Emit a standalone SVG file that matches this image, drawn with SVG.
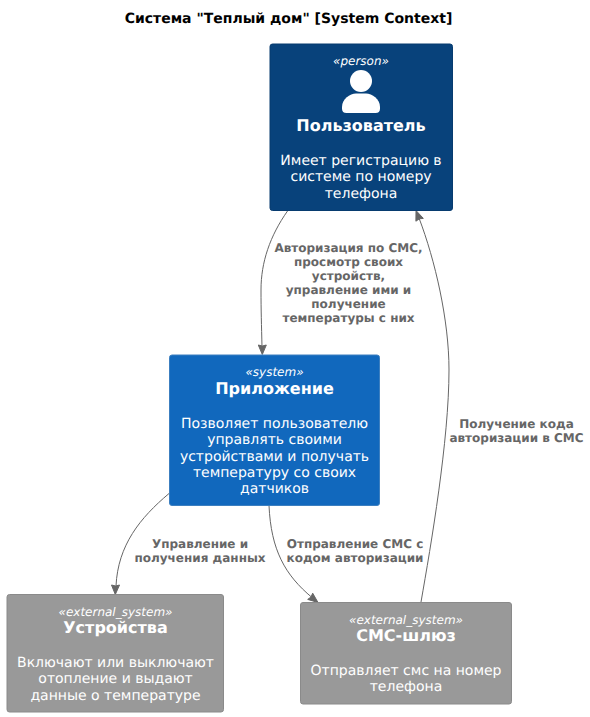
<svg xmlns="http://www.w3.org/2000/svg" width="590" height="717" viewBox="0 0 590 717">
<style>
text{font-family:"DejaVu Sans",sans-serif;text-anchor:middle;text-rendering:geometricPrecision}
.t{font-size:14px;font-weight:bold;fill:#000}
.s{font-size:12px;font-style:italic;fill:#fff}
.n{font-size:16px;font-weight:bold;fill:#fff}
.d{font-size:14px;fill:#fff}
.l{font-size:12px;font-weight:bold;fill:#666}
.c{fill:none;stroke:#666;stroke-width:1}
.a{fill:#666;stroke:#666;stroke-linejoin:miter}
</style>
<rect width="590" height="717" fill="#fff"/>
<text class="t" x="288.500" y="23">Система "Теплый дом" [System Context]</text>
<g id="connectors">
<path class="c" d="M287.500,211 C270,236 261,262 261,290 C261,310 261.500,325 262,347"/>
<path class="a" d="M262.300,354.500 L258.300,345 L262.300,346 L266.300,345 Z"/>
<path class="c" d="M169,493.500 C140,518 118,545 116,586"/>
<path class="a" d="M115.300,594.500 L111.500,585 L115.700,586 L119.500,585 Z"/>
<path class="c" d="M269,505.500 C271,550 285,575 312,597.500"/>
<path class="a" d="M318,602.500 L307.700,599.400 L311,597 L312.700,593.200 Z"/>
<path class="c" d="M421,602 C431,545 449,440 449,370 C449,320 435,260 419,218"/>
<path class="a" d="M416,210.500 L423.300,218.400 L419.400,218.800 L415.900,221.200 Z"/>
<text class="l" x="348.500" y="252">Авторизация по СМС,</text>
<text class="l" x="348.500" y="266">просмотр своих</text>
<text class="l" x="348.500" y="280">устройств,</text>
<text class="l" x="348.500" y="294">управление ими и</text>
<text class="l" x="348.500" y="308">получение</text>
<text class="l" x="348.500" y="322">температуры с них</text>
<text class="l" x="200" y="548">Управление и</text>
<text class="l" x="200" y="562">получения данных</text>
<text class="l" x="355" y="548">Отправление СМС с</text>
<text class="l" x="355" y="562">кодом авторизации</text>
<text class="l" x="516.500" y="428">Получение кода</text>
<text class="l" x="516.500" y="442">авторизации в СМС</text>
</g>
<g id="user">
<rect x="270" y="44" width="182.500" height="166.500" rx="2.500" fill="#08427B" stroke="#073B6F"/>
<text class="s" x="361" y="65">«person»</text>
<circle cx="361" cy="81" r="11" fill="#fff"/>
<path d="M342,108.500 V107 C342,99 350,93.500 356,93.500 H366 C372,93.500 380,99 380,107 V108.500 Q380,113 375.500,113 H346.500 Q342,113 342,108.500 Z" fill="#fff"/>
<text class="n" x="361" y="131">Пользователь</text>
<text class="d" x="361" y="165">Имеет регистрацию в</text>
<text class="d" x="361" y="181">системе по номеру</text>
<text class="d" x="361" y="198">телефона</text>
</g>
<g id="app">
<rect x="169.500" y="355" width="210" height="150.500" rx="2.500" fill="#1168BD" stroke="#3C7FC0"/>
<text class="s" x="274.500" y="376">«system»</text>
<text class="n" x="274.500" y="394">Приложение</text>
<text class="d" x="274.500" y="428">Позволяет пользователю</text>
<text class="d" x="274.500" y="444">управлять своими</text>
<text class="d" x="274.500" y="461">устройствами и получать</text>
<text class="d" x="274.500" y="477">температуру со своих</text>
<text class="d" x="274.500" y="493">датчиков</text>
</g>
<g id="devices">
<rect x="7" y="594.500" width="216.500" height="117.500" rx="2.500" fill="#999" stroke="#8A8A8A"/>
<text class="s" x="115.500" y="616">«external_system»</text>
<text class="n" x="115.500" y="633">Устройства</text>
<text class="d" x="115.500" y="667">Включают или выключают</text>
<text class="d" x="115.500" y="683">отопление и выдают</text>
<text class="d" x="115.500" y="700">данные о температуре</text>
</g>
<g id="sms">
<rect x="300.500" y="602.500" width="211" height="101.500" rx="2.500" fill="#999" stroke="#8A8A8A"/>
<text class="s" x="406" y="624">«external_system»</text>
<text class="n" x="406" y="641">СМС-шлюз</text>
<text class="d" x="406" y="675">Отправляет смс на номер</text>
<text class="d" x="406" y="691">телефона</text>
</g>
</svg>
